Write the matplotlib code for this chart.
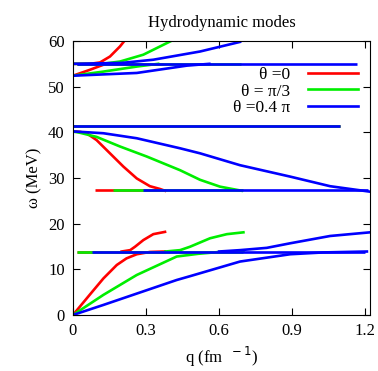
import matplotlib.pyplot as plt

plt.rcParams["font.family"] = ["Liberation Serif", "DejaVu Serif"]

# flat branches (q_start, q_end, omega) per angle
flat_red = [(0.015, 0.37, 55.0), (0.0, 1.097, 41.35), (0.09, 0.378, 27.35), (0.015, 0.378, 13.9)]
flat_green = [(0.015, 0.69, 55.0), (0.0, 1.097, 41.35), (0.166, 0.70, 27.35), (0.015, 0.70, 13.9)]
flat_blue = [(0.015, 1.166, 55.0), (0.0, 1.097, 41.35), (0.289, 1.21, 27.35), (0.077, 1.20, 13.9)]

# theta = 0
red_q_up = [0.0, 0.07, 0.111, 0.152, 0.193, 0.214]
red_w_up = [55.0, 55.0, 55.3, 56.6, 58.8, 60.2]
red_q_mid = [0.0, 0.07, 0.125, 0.2]
red_w_mid = [52.4, 53.7, 54.8, 55.0]
red_q_desc = [0.0, 0.029, 0.056, 0.097, 0.152, 0.207, 0.262, 0.316, 0.357, 0.378]
red_w_desc = [40.2, 40.1, 39.8, 38.3, 35.4, 32.5, 29.9, 28.2, 27.6, 27.2]
red_q_ac = [0.0, 0.07, 0.125, 0.18, 0.22, 0.262, 0.316, 0.378]
red_w_ac = [0.0, 4.5, 8.0, 10.95, 12.4, 13.3, 13.8, 13.9]
red_q_opt = [0.2, 0.235, 0.255, 0.289, 0.33, 0.378]
red_w_opt = [13.9, 14.2, 14.95, 16.4, 17.7, 18.2]

# theta = pi/3
green_q_up = [0.0, 0.12, 0.193, 0.289, 0.399]
green_w_up = [55.0, 55.0, 55.5, 57.0, 59.9]
green_q_mid = [0.0, 0.125, 0.262, 0.35]
green_w_mid = [52.4, 53.3, 54.4, 55.0]
green_q_desc = [0.0, 0.029, 0.097, 0.193, 0.303, 0.44, 0.522, 0.604, 0.693]
green_w_desc = [40.2, 39.9, 39.0, 36.9, 34.7, 31.7, 29.6, 28.1, 27.2]
green_q_ac = [0.0, 0.125, 0.262, 0.426, 0.515, 0.59, 0.70]
green_w_ac = [0.0, 4.4, 8.76, 12.8, 13.4, 13.75, 13.9]
green_q_opt = [0.38, 0.44, 0.481, 0.563, 0.632, 0.70]
green_w_opt = [13.9, 14.2, 14.95, 16.8, 17.7, 18.1]

# theta = 0.4 pi
blue_q_up = [0.0, 0.2, 0.33, 0.522, 0.686]
blue_w_up = [55.0, 55.2, 55.9, 57.7, 59.8]
blue_q_mid = [0.0, 0.262, 0.467, 0.56]
blue_w_mid = [52.4, 53.0, 54.6, 55.0]
blue_q_desc = [0.0, 0.125, 0.262, 0.44, 0.522, 0.686, 0.892, 1.056, 1.22]
blue_w_desc = [40.2, 39.8, 38.7, 36.5, 35.4, 32.8, 30.3, 28.2, 27.0]
blue_q_ac = [0.0, 0.125, 0.426, 0.481, 0.686, 0.892, 1.029, 1.207]
blue_w_ac = [0.0, 2.2, 7.66, 8.5, 11.7, 13.3, 13.7, 13.9]
blue_q_opt = [0.6, 0.686, 0.796, 0.892, 1.056, 1.22]
blue_w_opt = [13.9, 14.2, 14.7, 15.7, 17.3, 18.1]

series = [
    ("red", "θ =0", flat_red,
     [(red_q_up, red_w_up), (red_q_mid, red_w_mid), (red_q_desc, red_w_desc),
      (red_q_ac, red_w_ac), (red_q_opt, red_w_opt)]),
    ("#00ee00", "θ = π/3", flat_green,
     [(green_q_up, green_w_up), (green_q_mid, green_w_mid), (green_q_desc, green_w_desc),
      (green_q_ac, green_w_ac), (green_q_opt, green_w_opt)]),
    ("blue", "θ =0.4 π", flat_blue,
     [(blue_q_up, blue_w_up), (blue_q_mid, blue_w_mid), (blue_q_desc, blue_w_desc),
      (blue_q_ac, blue_w_ac), (blue_q_opt, blue_w_opt)]),
]

fig = plt.figure(figsize=(3.78, 3.71), dpi=100)
ax = fig.add_axes([0.193, 0.151, 0.786, 0.7385])

lw = 1.9
for color, label, flats, curves in series:
    for q0, q1, w in flats:
        ax.plot([q0, q1], [w, w], color=color, lw=lw, solid_capstyle="butt")
    for i, (q, w) in enumerate(curves):
        ax.plot(q, w, color=color, lw=lw, label=label if i == 0 else None)

ax.set_xlim(0, 1.22)
ax.set_ylim(0, 60)
ax.set_xticks([0, 0.3, 0.6, 0.9, 1.2])
ax.set_xticklabels(["0", "0.3", "0.6", "0.9", "1.2"])
ax.set_yticks(range(0, 61, 10))
ax.tick_params(direction="in", top=True, right=True, length=5, labelsize=12, pad=6)

ax.set_xlabel("q (fm $^{\\ -1}$)", fontsize=12)
ax.set_ylabel("ω (MeV)", fontsize=12)
ax.set_title("Hydrodynamic modes", fontsize=12, pad=10)

leg = ax.legend(loc="upper right", bbox_to_anchor=(1.0, 0.95), frameon=False,
                fontsize=12.5, markerfirst=False, handlelength=2.9,
                labelspacing=0.02, borderaxespad=0.3, handletextpad=1.0)
for t in leg.get_texts():
    t.set_ha("right")

fig.savefig("out.png", dpi=100)
